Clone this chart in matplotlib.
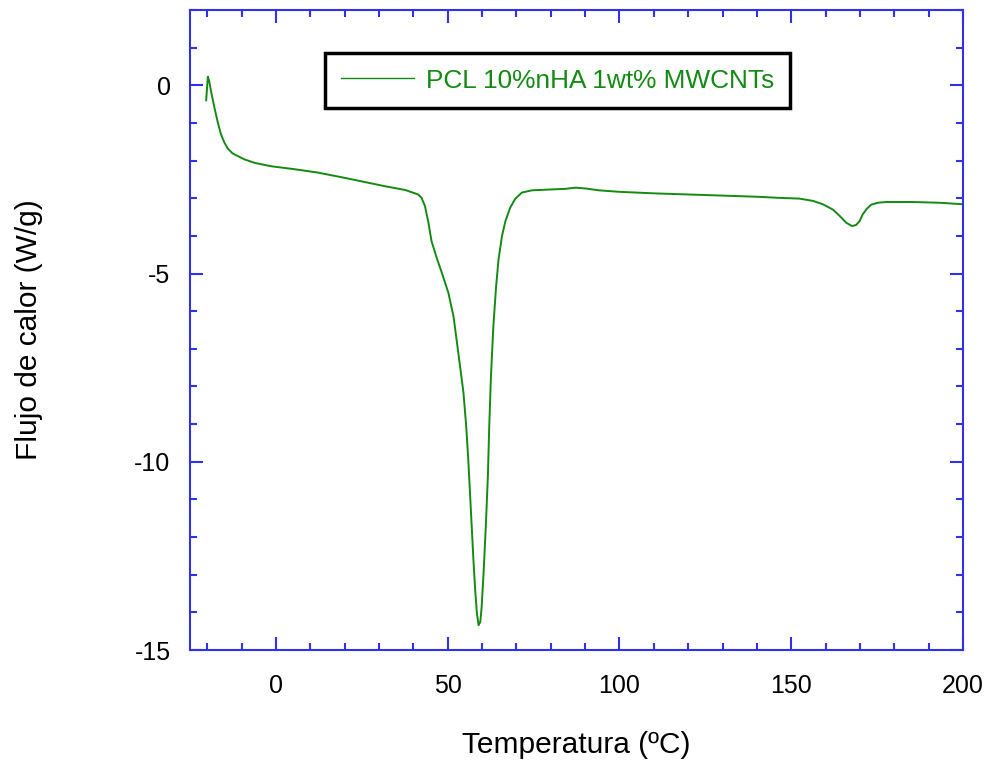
import matplotlib.pyplot as plt
from matplotlib.ticker import MultipleLocator

plt.rcParams['font.family'] = ['Liberation Sans', 'DejaVu Sans']

# DSC curve
temperatura = [-20.3, -20.0, -19.8, -19.4, -18.9, -17.9, -16.9, -16.0, -15.0, -14.0,
               -12.6, -11.1, -9.1, -6.2, -1.4, 5.5, 12.3, 20.1, 25.9, 31.7,
               37.6, 40.5, 41.4, 42.4, 43.4, 44.4, 45.3, 46.8, 48.3, 50.2,
               51.7, 52.6, 53.6, 54.6, 55.4, 56.0, 56.5, 57.0, 57.5, 58.0,
               58.5, 59.0, 59.5, 59.9, 60.5, 61.1, 61.7, 62.1, 62.6, 63.3,
               64.1, 64.8, 65.8, 66.8, 68.2, 69.7, 71.6, 74.5, 79.4, 84.3,
               87.2, 90.1, 94.0, 100, 110, 120, 130, 140, 146.5, 152.4,
               156.3, 159.2, 162.1, 164.0, 166.0, 167.7, 168.9, 169.9, 170.8, 172.0,
               173.3, 175.2, 177.7, 185.4, 193.2, 200]
flujo = [-0.40, -0.02, 0.23, 0.11, -0.15, -0.59, -0.99, -1.30, -1.52, -1.68,
         -1.81, -1.88, -1.97, -2.06, -2.15, -2.23, -2.32, -2.46, -2.57, -2.68,
         -2.78, -2.87, -2.90, -2.99, -3.21, -3.65, -4.14, -4.58, -4.98, -5.51,
         -6.14, -6.76, -7.46, -8.17, -9.06, -9.95, -10.83, -11.72, -12.61, -13.40,
         -14.02, -14.34, -14.25, -13.85, -12.87, -11.72, -10.39, -9.06, -7.73, -6.40,
         -5.34, -4.63, -4.01, -3.61, -3.25, -3.01, -2.85, -2.79, -2.77, -2.75,
         -2.72, -2.74, -2.79, -2.83, -2.87, -2.90, -2.93, -2.96, -2.99, -3.01,
         -3.07, -3.16, -3.30, -3.46, -3.65, -3.74, -3.71, -3.61, -3.43, -3.28,
         -3.17, -3.12, -3.10, -3.10, -3.12, -3.16]
etiqueta = 'PCL 10%nHA 1wt% MWCNTs'

verde = '#138a13'
azul = '#3030ee'

fig = plt.figure(figsize=(9.91, 7.64), dpi=100)
ax = fig.add_axes([190 / 991, 1 - 650 / 764, 773 / 991, 640 / 764])

ax.plot(temperatura, flujo, color=verde, lw=1.4, label=etiqueta)

ax.set_xlim(-25, 200)
ax.set_ylim(-15, 2)
ax.xaxis.set_major_locator(MultipleLocator(50))
ax.xaxis.set_minor_locator(MultipleLocator(10))
ax.yaxis.set_minor_locator(MultipleLocator(1))
ax.set_yticks([0, -5, -10, -15])
ax.set_yticklabels(['0', '-5', '-10', '-15'])

for s in ax.spines.values():
    s.set_color(azul)
    s.set_linewidth(1.5)
ax.tick_params(which='both', direction='in', top=True, right=True,
               color=azul, width=1.5, labelsize=18)
ax.tick_params(axis='x', pad=17)
ax.tick_params(axis='y', pad=14)
ax.tick_params(which='major', length=9.5)
ax.tick_params(which='minor', length=5)

ax.set_xlabel('Temperatura (ºC)', fontsize=21.5)
ax.set_ylabel('Flujo de calor (W/g)', fontsize=21.5)
ax.xaxis.set_label_coords(0.5, -0.127)
ax.yaxis.set_label_coords(-0.19, 0.5)

leg = ax.legend(loc='upper left', bbox_to_anchor=(0.1747, 0.933), borderaxespad=0,
                fontsize=18.9, frameon=True, fancybox=False, framealpha=1,
                handlelength=2.8, handletextpad=0.45, borderpad=0.6,
                labelcolor=verde)
leg.get_frame().set_edgecolor('black')
leg.get_frame().set_linewidth(2.5)
leg.get_lines()[0].set_linewidth(1.0)

fig.savefig('out.png', dpi=100)
